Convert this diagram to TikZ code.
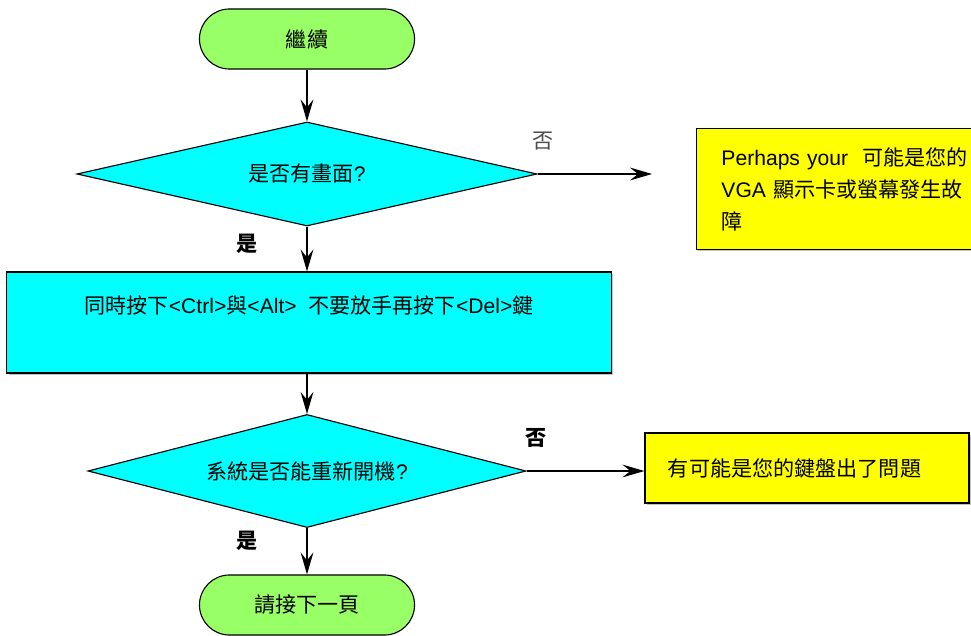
\documentclass[tikz,border=0pt]{standalone}
\usepackage{fontspec}
\setmainfont{Liberation Sans}
\newfontfamily\cjk{Noto Sans CJK TC}
\usetikzlibrary{shapes.geometric,arrows.meta,shadows}
\newcommand{\zh}[1]{{\cjk #1}}
\newcommand{\chartfont}{\fontsize{15}{22.8}\selectfont}

\begin{document}
\begin{tikzpicture}[x=0.025cm, y=-0.025cm, thick,
		>={Stealth[length=0.55cm, width=0.32cm, inset=0.2cm]}]
		% Colores del diagrama
		\definecolor{termfill}{RGB}{153, 255, 102} % Verde de inicio/fin
		\definecolor{stepfill}{RGB}{0, 255, 255}   % Cian de pasos y preguntas
		\definecolor{notefill}{RGB}{255, 255, 0}   % Amarillo de avisos
		
		% Marco de la imagen
		\useasboundingbox (0,0) rectangle (971,636);
		
		% --- Estilos ---
		\tikzset{
			terminal/.style={draw, fill=termfill, rounded corners=0.75cm,
				minimum width=5.375cm, minimum height=1.5cm, font=\chartfont},
			decision/.style={diamond, draw, fill=stepfill, aspect=4, inner sep=0pt, font=\chartfont},
			process/.style={draw, fill=stepfill, minimum width=15.1cm, minimum height=2.525cm,
				text height=0.4cm, text depth=0.86cm, font=\chartfont,
				drop shadow={shadow xshift=0.04cm, shadow yshift=-0.04cm, fill=black!45}},
			note/.style={draw, fill=notefill, align=left, font=\chartfont,
				drop shadow={shadow xshift=0.04cm, shadow yshift=-0.04cm, fill=black!45}},
			branch/.style={font=\chartfont, inner sep=1pt}
		}
		
		% --- Nodos del flujo principal ---
		\node[terminal] (start) at (307,39) {\zh{繼續}};
		\node[decision, minimum width=11.5cm, minimum height=2.6cm] (screen) at (307,174) {\zh{是否有畫面}?};
		\node[process] (keys) at (309,322.5) {\zh{同時按下}<Ctrl>\zh{與}<Alt>\ \ \zh{不要放手再按下}<Del>\zh{鍵}};
		\node[decision, minimum width=10.95cm, minimum height=2.825cm] (reboot) at (307,471) {\zh{系統是否能重新開機}?};
		\node[terminal] (next) at (307,605) {\zh{請接下一頁}};
		
		% --- Avisos ---
		\node[note, minimum height=3.025cm, text width=6.6cm, inner xsep=0.625cm] (vga) at (853.5,189)
			{Perhaps your\ \ \zh{可能是您的}\\VGA \zh{顯示卡或螢幕發生故}\\\zh{障}};
		\node[note, minimum height=1.75cm, text width=6.95cm, inner xsep=0.575cm] (kbd) at (807,468)
			{\zh{有可能是您的鍵盤出了問題}};
		\coordinate (vgain) at (652,174);
		
		% --- Conectores ---
		\draw[->] (start) -- (screen);
		\draw[->] (screen) -- (screen |- keys.north);
		\draw[->] (keys.south -| reboot) -- (reboot);
		\draw[->] (reboot) -- (next);
		\draw[->] (screen.east) -- (vgain);
		\draw[->] (reboot.east) -- (reboot.east -| kbd.west);
		
		% --- Etiquetas de las ramas ---
		\node[branch, text=black!70] (no1) at (543,141) {\zh{否}};
		\node[branch] (yes1) at (247,244) {\cjk\bfseries 是};
		\node[branch] (no2) at (536,438) {\cjk\bfseries 否};
		\node[branch] (yes2) at (247,541) {\cjk\bfseries 是};
		
	\end{tikzpicture}
\end{document}
